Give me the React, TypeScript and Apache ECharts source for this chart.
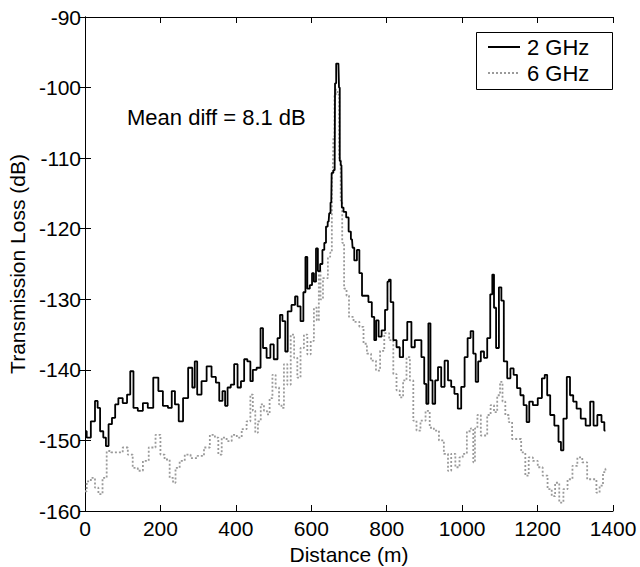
import React, { useEffect, useRef } from "react";
import * as echarts from "echarts";

// 2 GHz series (distance m, transmission loss dB)
const dist2 = [0,9,22,31,36,44,53,58,67,76,84,93,107,116,124,133,147,160,173,189,200,213,227,233,244,253,267,280,289,293,302,316,329,342,352,360,369,374,382,391,400,409,418,426,435,442,448,462,469,475,488,495,506,515,519,528,534,541,554,560,567,576,582,587,592,600,604,610,615,620,627,632,637,641,646,649,653,655,662,664,668,672,675,676,680,682,689,696,702,708,711,717,725,730,739,747,756,765,769,775,782,791,800,804,808,813,822,830,839,848,861,870,879,888,896,903,907,914,918,925,932,940,949,958,967,975,984,993,1002,1011,1018,1027,1032,1040,1045,1054,1062,1071,1078,1082,1087,1093,1102,1106,1115,1124,1132,1141,1150,1159,1167,1175,1181,1194,1207,1216,1222,1229,1238,1251,1260,1264,1273,1282,1290,1299,1308,1321,1334,1345,1352,1365,1374,1380];
const loss2 = [-148.7,-149.6,-147.3,-144.4,-145.4,-148.7,-149.6,-150.8,-147.7,-146.8,-144.9,-144,-144.7,-143.5,-140.2,-145.4,-145.8,-144.7,-145.4,-141.1,-143,-145.1,-145.4,-143,-144.9,-147.3,-144,-139.7,-142.5,-138.8,-143.5,-141.6,-139.5,-141,-141.8,-144.4,-143,-145.1,-142.5,-142.1,-139.2,-142.5,-141.6,-138.5,-138.8,-141.6,-140,-139.7,-134.1,-136.9,-138.3,-136.4,-138.5,-135.5,-132.2,-133.1,-137.4,-131.7,-130.8,-129.6,-131,-133.1,-129,-124,-128.5,-128,-126.3,-127.5,-122.8,-126,-125,-123,-122,-119.7,-119,-117.8,-116.3,-112.1,-111.7,-99.4,-96.6,-96.6,-100,-110.4,-111,-117,-117.6,-118.4,-120.4,-121.5,-122.7,-124.5,-123,-126.3,-129.5,-129.5,-130.4,-132.5,-135.8,-133,-135.3,-134.4,-131.5,-127.5,-127.2,-130.4,-135.8,-136.8,-138.2,-135.8,-133.2,-136.8,-135.8,-135.8,-138.2,-142,-144.8,-133.4,-141.5,-144.8,-141.5,-139.6,-142.4,-138.7,-141.5,-142.4,-143.4,-145.5,-142.4,-138.2,-135.5,-134.5,-137.7,-141.7,-138.8,-137.4,-138.3,-135.5,-129.3,-126.5,-131.2,-136.9,-128.3,-130.2,-138.8,-141.2,-139.8,-140.7,-142.6,-143.6,-145,-147.4,-144.5,-145,-144,-141.2,-140.7,-143.6,-146.4,-147.9,-150.2,-151.4,-146.9,-141,-143.6,-144.5,-145.5,-146.9,-147.9,-144.5,-147.9,-146.4,-147.4,-148.6];

// 6 GHz series
const dist6 = [0,9,22,31,40,53,62,76,93,107,120,133,147,160,178,196,204,218,231,236,244,258,271,289,307,324,338,351,356,369,382,396,409,422,435,442,448,455,462,470,479,486,493,501,510,519,523,532,541,550,559,567,576,585,594,603,611,618,622,627,635,640,648,652,657,660,663,667,672,676,680,684,690,697,703,721,734,743,752,765,778,787,800,813,822,830,839,848,857,866,875,883,896,910,918,932,945,958,967,975,989,997,1006,1019,1027,1032,1036,1045,1054,1062,1071,1080,1089,1097,1104,1110,1119,1128,1137,1150,1163,1172,1181,1194,1207,1220,1233,1242,1251,1264,1273,1286,1299,1312,1325,1338,1352,1360,1369,1378,1382];
const loss6 = [-157.2,-155.8,-155.3,-156.7,-157.6,-155.3,-151.5,-151.7,-151.7,-151,-152,-153.9,-154.3,-152.9,-151,-149.2,-152,-152.7,-155.3,-156,-153.9,-152.9,-152,-152.5,-152.2,-151,-149.2,-149.6,-152,-149.6,-150.1,-149.2,-149.6,-148.4,-147.3,-143.5,-145.8,-148.9,-147.3,-144.9,-145.8,-146.3,-144,-140.7,-142.5,-144.9,-145.4,-139.2,-142.1,-135,-138.3,-141.1,-136.9,-135,-137.8,-135.9,-131.2,-133,-125.9,-130,-127,-127,-124,-123.4,-112,-107,-101,-100.3,-101,-110,-116,-122,-128.5,-129.5,-132.5,-133.2,-133.9,-136.3,-137.7,-138.7,-140.1,-137.3,-134.8,-135.8,-140.6,-142.9,-143.9,-141.5,-138.2,-141.5,-147.2,-148.6,-147.2,-145.8,-148.2,-148.6,-150,-151.9,-154.3,-151.9,-153.8,-152.4,-151.9,-148.7,-148.3,-153.1,-148.3,-146.4,-149.3,-149.3,-146.4,-145,-146,-143.6,-141.7,-144.5,-146.4,-147.4,-149.8,-149.8,-151.7,-155,-152.4,-152.9,-153.8,-155,-156.9,-157.9,-156,-158.8,-156.9,-155.5,-153.6,-152.4,-153.1,-155.5,-155.5,-157.4,-156.4,-154.5,-154];

const xTicks = [0, 200, 400, 600, 800, 1000, 1200, 1400];
const yTicks = [-160, -150, -140, -130, -120, -110, -100, -90];
const seriesNames = ["2 GHz", "6 GHz"];
const annotation = "Mean diff = 8.1 dB";

const FONT = "Liberation Sans, Arial, Helvetica, sans-serif";
const GREY = "#9a9a9a";

export default function App() {
  const ref = useRef<HTMLDivElement>(null);
  useEffect(() => {
    if (!ref.current) return;
    const chart = echarts.init(ref.current, undefined, { renderer: "svg" });
    const axisCommon = {
      axisLine: { show: true, lineStyle: { color: "#000", width: 1 } },
      axisTick: { show: true, inside: true, length: 6, lineStyle: { color: "#000" } },
      splitLine: { show: false },
    };
    chart.setOption({
      animation: false,
      backgroundColor: "#fff",
      textStyle: { fontFamily: FONT },
      grid: { left: 85, right: 27, top: 17, bottom: 56, outerBoundsMode: "none", containLabel: false },
      xAxis: [
        {
          type: "value",
          min: xTicks[0],
          max: xTicks[xTicks.length - 1],
          interval: 200,
          position: "bottom",
          ...axisCommon,
          axisLabel: { color: "#000", fontSize: 21, margin: 7, fontFamily: FONT, formatter: (v: number) => String(v) },
          name: "Distance (m)",
          nameLocation: "middle",
          nameGap: 33,
          nameTextStyle: { color: "#000", fontSize: 21, fontFamily: FONT },
        },
        {
          type: "value",
          min: xTicks[0],
          max: xTicks[xTicks.length - 1],
          interval: 200,
          position: "top",
          ...axisCommon,
          axisLabel: { show: false },
        },
      ],
      yAxis: [
        {
          type: "value",
          min: yTicks[0],
          max: yTicks[yTicks.length - 1],
          interval: 10,
          position: "left",
          ...axisCommon,
          axisLabel: { color: "#000", fontSize: 21, margin: 4, fontFamily: FONT },
          name: "Transmission Loss (dB)",
          nameLocation: "middle",
          nameGap: 55,
          nameTextStyle: { color: "#000", fontSize: 21, fontFamily: FONT },
        },
        {
          type: "value",
          min: yTicks[0],
          max: yTicks[yTicks.length - 1],
          interval: 10,
          position: "right",
          ...axisCommon,
          axisLabel: { show: false },
        },
      ],
      graphic: [
        {
          type: "text",
          left: 127,
          top: 106,
          style: { text: annotation, fontSize: 22, fontFamily: FONT, fill: "#000" },
        },
        {
          type: "group",
          z: 100,
          children: [
            {
              type: "rect",
              shape: { x: 476.5, y: 32.5, width: 136, height: 57 },
              style: { fill: "#fff", stroke: "#000", lineWidth: 1 },
            },
            {
              type: "line",
              shape: { x1: 488, y1: 47, x2: 520, y2: 47 },
              style: { stroke: "#000", lineWidth: 2 },
            },
            {
              type: "text",
              x: 527,
              y: 47,
              style: { text: seriesNames[0], fontSize: 22, fontFamily: FONT, fill: "#000", verticalAlign: "middle" },
            },
            {
              type: "line",
              shape: { x1: 488, y1: 73, x2: 520, y2: 73 },
              style: { stroke: GREY, lineWidth: 2, lineDash: [2, 2] },
            },
            {
              type: "text",
              x: 527,
              y: 73,
              style: { text: seriesNames[1], fontSize: 22, fontFamily: FONT, fill: "#000", verticalAlign: "middle" },
            },
          ],
        },
      ],
      series: [
        {
          name: seriesNames[0],
          type: "line",
          step: "middle",
          data: dist2.map((d, i) => [d, loss2[i]]),
          symbol: "none",
          lineStyle: { color: "#000", width: 1.8 },
          itemStyle: { color: "#000" },
          z: 3,
        },
        {
          name: seriesNames[1],
          type: "line",
          step: "middle",
          data: dist6.map((d, i) => [d, loss6[i]]),
          symbol: "none",
          lineStyle: { color: GREY, width: 1.8, type: [2, 2] },
          itemStyle: { color: GREY },
          z: 2,
        },
      ],
    });
    return () => chart.dispose();
  }, []);
  return <div ref={ref} style={{ width: 640, height: 567, position: "absolute", left: 0, top: 0 }} />;
}
